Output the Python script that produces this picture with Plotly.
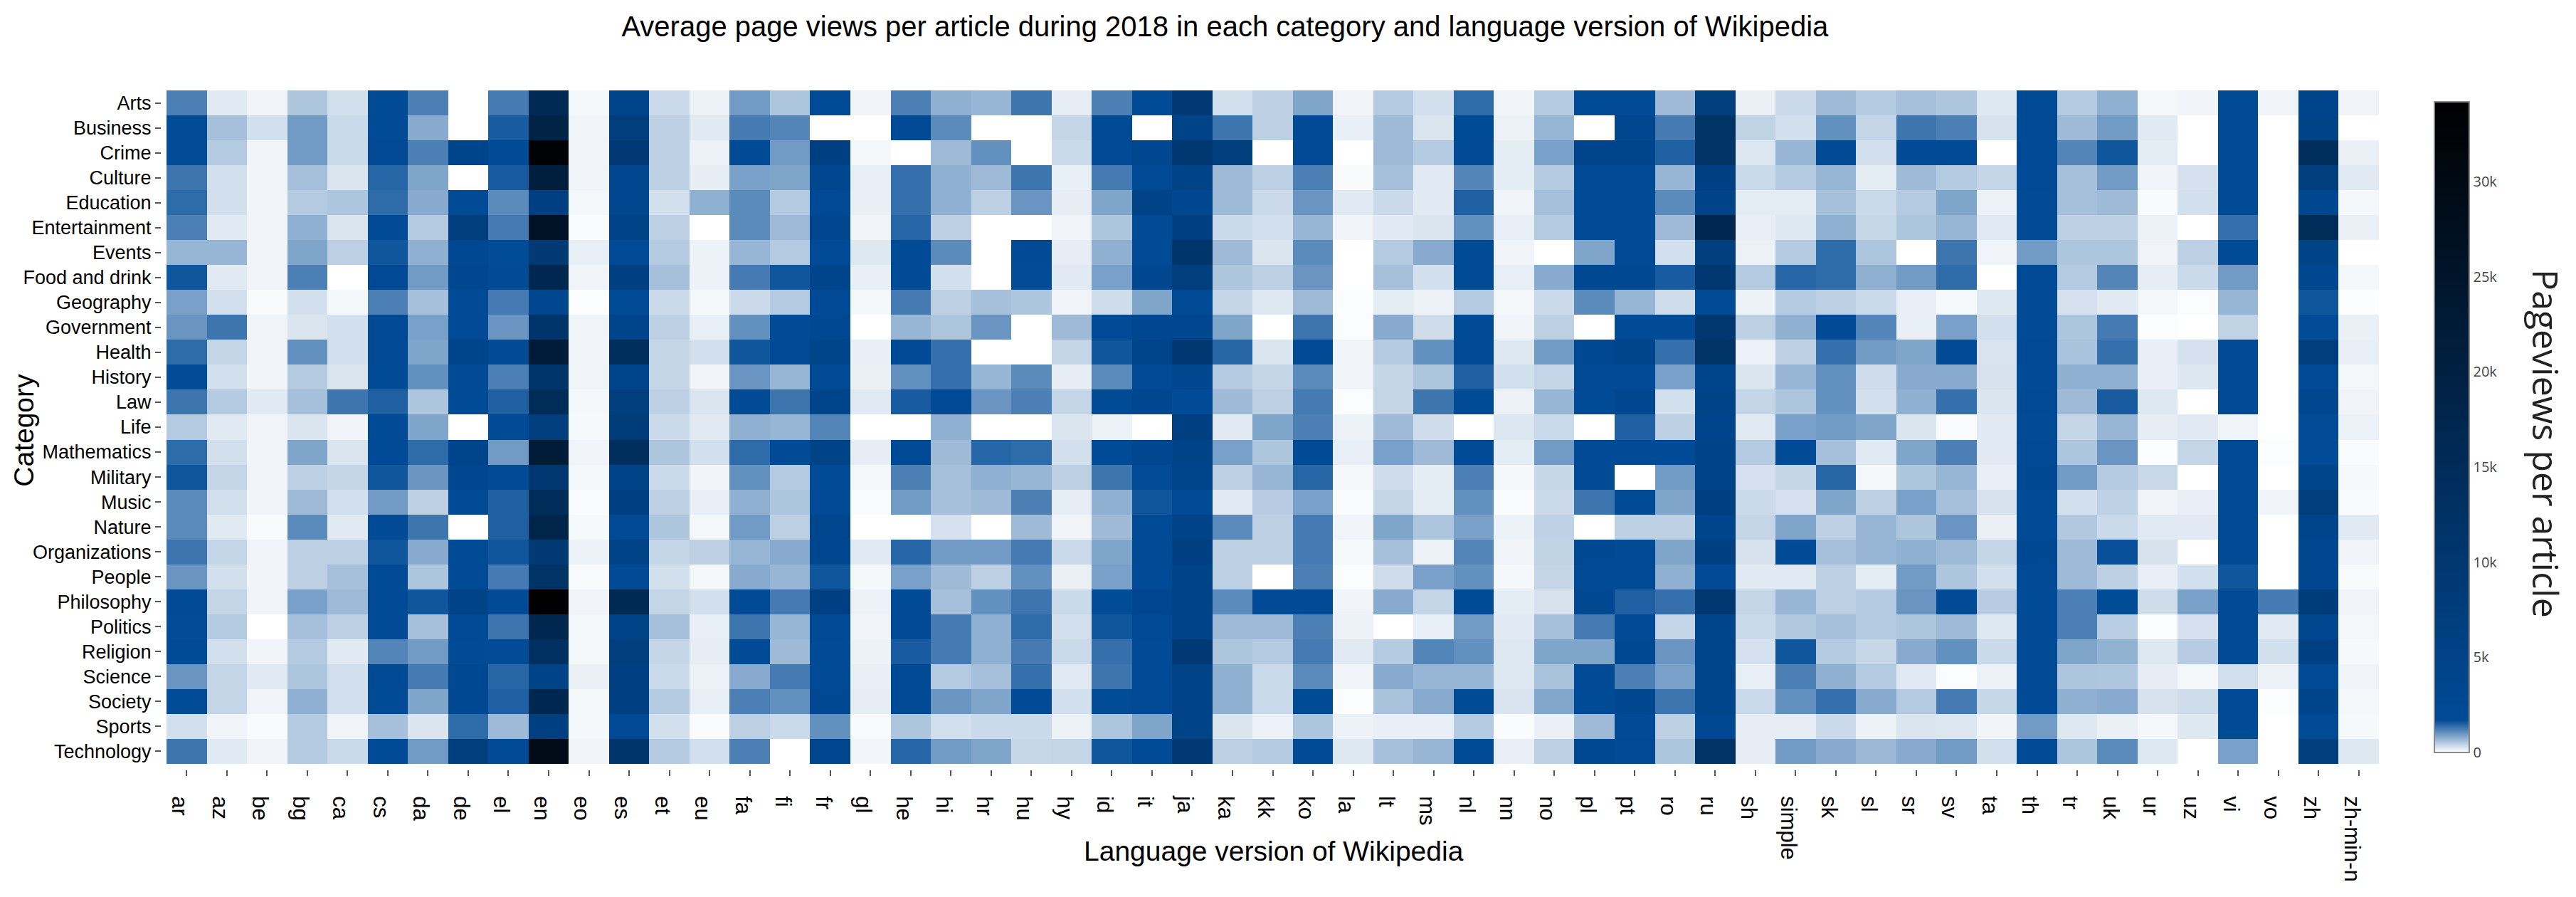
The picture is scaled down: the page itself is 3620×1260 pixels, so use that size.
import numpy as np
import plotly.graph_objects as go

categories = ["Arts","Business","Crime","Culture","Education","Entertainment","Events","Food and drink","Geography","Government","Health","History","Law","Life","Mathematics","Military","Music","Nature","Organizations","People","Philosophy","Politics","Religion","Science","Society","Sports","Technology"]
languages = ["ar","az","be","bg","ca","cs","da","de","el","en","eo","es","et","eu","fa","fi","fr","gl","he","hi","hr","hu","hy","id","it","ja","ka","kk","ko","la","lt","ms","nl","nn","no","pl","pt","ro","ru","sh","simple","sk","sl","sr","sv","ta","th","tr","uk","ur","uz","vi","vo","zh","zh-min-n"]

# Page views per article, in hundreds, one list per language, in category order
ar = [12,17,17,13,14,12,7,16,9,10,14,17,13,5,14,16,11,11,13,10,18,17,18,10,17,3,13]
az = [2,6,5,3,3,2,7,2,3,13,4,3,5,2,3,4,3,2,4,3,4,5,3,4,4,1,2]
be = [1,3,1,1,1,1,1,1,0.5,1,1,1,2,1,1,1,1,0.5,1,1,1,0,1,2,1,0.5,1]
bg = [5.5,9.5,9.5,6,5,7.5,8.5,12,3,2.5,10.5,5,6,2.5,8.5,4.5,6.5,11,4.5,4.5,9,6,5,5.5,7.5,5,5]
ca = [3,3.5,3.5,2.5,5.5,2.5,4.5,0,0.7,3,3,2.5,13,1,2.5,4,3,2,4.5,6,6.5,4.5,2,3,3,1,3.5]
cs = [18,18,19,14.5,14,18,16,19,12,20,19,18,15,18,18,16,9.5,18,16,18,18,18,11.5,19,18,6,18]
da = [12,8,12,8.5,8,5,7.5,9.5,6,9,8.5,10.5,5.5,8.5,14,10,4.5,13,8,5.5,16,6,9.5,12.5,8.5,2.5,9.5]
de = [0,0,40,0,18,70,25,30,18,18,40,18,18,0,40,30,19,0,18,18,50,20,17.5,25,25,14,70]
el = [12.5,15.5,18,15.5,11,12.5,17,18,12.5,10,18,12,15,17.5,9.5,18,15,15,16,12.5,18,13,17,14.5,15,6.5,18]
en = [160,190,330,210,60,260,90,170,30,110,220,110,150,70,220,100,150,180,90,120,340,170,130,50,170,60,290]
eo = [0.7,1,1,1,0.8,0.4,1.6,1,0.2,1,1,1,0.7,0.6,1,0.7,0.4,0.6,1.2,0.5,1,0.7,0.7,1.4,0.7,0.7,1]
es = [45,70,90,30,30,50,18,60,18,40,140,40,70,80,140,50,60,19,50,20,160,50,70,60,60,20,110]
et = [3.5,4.5,4.5,4.5,3,4.5,5,6,3.5,4.5,4,4,4.5,3.5,5.5,3.5,4.5,5.5,4,3,4,6,4,3.5,5,3,5]
eu = [1.3,2,1.3,1.7,7.5,0,1.2,1.2,0.7,1.5,3,1,2.5,2,3,1,1.6,0.8,4.5,0.8,3,1.6,1.7,1.3,1.6,0.4,3]
fa = [9.5,12.5,18,9,11,11,7,12.5,3.5,10.5,16,10,18,7.5,14,10.5,7.5,9.5,7,8,18,13,18,8,12,4.5,12]
fi = [5.5,11.5,9.5,8.5,5,6.5,5,16,5,18,18,7,13,7,18,5,5.5,4.5,8,7,12.5,7,6.5,12.5,10.5,3.5,0]
fr = [18,0,60,30,20,35,18,40,19,25,45,20,40,11.5,50,18,18,35,30,16,60,20,18,18,25,10.5,35]
gl = [1,0,0.8,1.5,1.5,1,2.2,1.5,0.8,0,1.5,1.4,2,0,1.7,0.8,0.4,0,2,0.7,1.2,1,1.2,1.5,1.7,0.5,0.9]
he = [12,20,0,13.5,13.5,14.5,18,18,12.5,7,20,10.5,15.5,0,19,12,9.5,0,14.5,9,18,18,15.5,19,19,5.5,14.5]
hi = [7.5,11,6.5,7.5,7.5,4.5,11,3,4.5,5.5,13.5,13.5,19,7.5,6.5,6,6,2.8,9.5,6.5,6,12.5,12.5,5,10,3,9.5]
hr = [7,0,10.5,6.5,4.5,0,0,0,6,10,0,7,10,0,14.5,7.5,6.5,0,9.5,4.5,10.5,7.5,7.5,6,8.5,3.5,8.5]
hu = [13,0,0,13,10,0,18,17,5.5,0,0,11,12,0,14,7,12,6.5,12.5,10.5,13,14,12.5,13.5,18,3.5,3.8]
hy = [1.7,4,3.5,1.5,1.7,1,1.7,2,1,6.5,4,1.7,4,2.5,3,4.5,1.7,1,3.5,1.4,3.5,3,3.5,2,3,1.3,4]
id_ = [12,18,18,12.5,8.5,5.5,7.5,9,3.2,18,16,11,18,1.2,18,13,7.5,6.5,8.5,9,17,16,13.5,13,17,5.5,16]
it = [18,0,30,19,50,18,18,30,8.5,30,40,19,30,0,30,17,16,18,18,18,35,20,18,18,20,8.5,18]
ja = [90,50,100,50,30,60,110,70,20,30,100,30,18,60,50,40,18,50,60,50,50,50,90,50,50,50,90]
ka = [3,13,70,6.5,6.5,3.5,6.5,5.5,4,8.5,14.5,5,6.5,2,9,4.5,2,11,4.5,4.5,11,6.5,5.5,7.5,7.5,2.5,4.5]
kk = [4.5,4.5,0,4.5,3.5,3,2.5,4.5,2.2,0,2.5,4,4.5,8.5,5.5,7,4.8,4.5,4.5,0,18,6.5,5,3.5,3.5,1.3,5]
ko = [8.5,18,18,12,10,7,11,10,6.5,13,18,11,12.5,12,18,14.5,9,12.5,12.5,12,18,12,12.5,11,17.5,5.5,18]
la = [1,1.5,0,0.5,2,1,0,0,0.3,0.3,1,1,0.3,1.2,1.6,0.7,0.4,1,0.6,0.3,1,1.2,2,1,0.3,1.2,2.2]
lt = [5,6.5,6.5,6,3.5,2,5,6,1.8,8,5,4,4,6.5,9,3.2,4,8.5,6,3.2,8,0,5,8,5.7,1.5,6]
ms = [3,2.5,5,2,2,2.5,8,3,1.2,3.2,10.5,5.5,13,3.2,6.5,1.8,1.8,5.5,1.2,9,4,1.5,11.5,7,8,1.5,7]
nl = [14,18,18,11.5,15,10.5,18,18,5,18,18,15,18,0,18,12,10.5,9,11.5,10.5,18,9.5,10.5,7,18,5,18]
nn = [1,1.3,1.8,1.8,1,1.6,1,1.6,0.8,1,2.2,3,1.2,2.3,1.8,0.7,0.4,1.2,1,0.7,1.8,2,2.2,2.2,2.6,0.4,1.6]
no = [5,7,9,5,6,5,0,8,3.5,4.5,9.5,4,7,3.5,9.5,3.8,3.5,4.3,4.2,4,2.7,6,8.5,5.8,8.3,1.4,4.5]
pl = [18,0,40,18,18,18,8.5,25,11,0,25,18,18,0,18,18,13,0,25,18,25,12.5,8.5,18,18,6.5,25]
pt = [18,30,40,18,18,18,19,25,7,18,40,18,30,15,18,0,18,4.5,20,19,15,18,25,12,30,18,20]
ro = [6.5,12.5,15,7,11,6.5,3,15.5,3.2,18,13.5,9,3,4.5,18,9.5,8.5,4.5,8.5,7.5,13.5,4,10,9,13,4.5,5.5]
ru = [70,120,120,60,50,170,70,100,18,100,120,40,50,40,50,50,60,40,60,20,100,40,40,40,40,25,120]
sh = [1.4,4.2,2.4,3.5,1.9,1.6,1.3,5,1.2,4.5,1.3,2.5,4,2,5,2.8,3.5,4,2.7,2,4,3.5,2.8,1.6,3.5,1.7,1.7]
simple = [3.5,3,7,5,1.9,2.2,5,14.5,5,7.5,4.5,7,5.5,9,18,4,2.8,8.5,18,2,7,5.2,16,12,10.5,1.7,9.5]
sk = [6.5,10.5,18,7,6,7.5,14,14,4.5,18,13.5,10.5,10.5,9.5,6,14.5,8.5,4.5,6,4.5,4.5,6,5,7.5,13.5,3.5,8]
sl = [5,4,3,1.9,3.5,3.8,5.5,7.5,3.5,11.5,9.5,3.3,3,8.5,2,0.8,4.5,7,7,1.9,5,5,3.8,5,8,1.2,6.7]
sr = [6,13,18,6.5,5,5.5,0,9.5,1.5,1.5,8.5,8,7.5,2.5,8.5,5.5,9,5.5,7.5,9.5,10,5.5,8,2,5,2.5,8]
sv = [5.5,12,18,5,8.5,7,13,14,0.6,9,18,8,13.5,0.4,12,7,6,10,6.5,5.5,18,6.5,10.5,0.3,12.5,2.4,9.5]
ta = [2.2,2.7,0,4,1.3,2,1,0,2.2,3,2.6,2.7,2.5,2,2,1.5,2.7,1.4,4,3,4.8,2.2,3.5,1.3,3.8,1,3]
th = [19,19,19,18.5,18,18,9.5,20,18,18,19,18,20,17.5,19,25,18,18,25,18,18,18,18,18,18,9.5,18]
tr = [5,6.5,11.5,6,6,4.5,5.5,5,2.8,5.5,5.7,7.5,6.5,4,5.5,9.5,3,5.2,6.5,6.5,12,12,8.5,5.5,7.5,2.2,5.5]
uk = [7.5,9.5,16,9.5,6.5,4.5,5.5,11.5,2,12.5,13.5,7.5,15.5,7,10,5,4.3,3.5,16.5,4.4,17,4.6,7.3,5.4,8,1.4,11]
ur = [0.8,2,1.9,1,0.5,1.2,1,1.7,0.8,0.3,1.5,1.5,2.2,1.7,0.3,3.7,1,2,2.7,1.5,3.2,0.3,2.2,1.7,2.7,0.7,2.2]
uz = [1,0,0,2.8,3,0,4.5,3.5,0.3,0,2.8,2.3,0,2,4,0,1.5,2,0,3,9,2.8,4.8,0.8,3.2,2.2,0]
vi = [17.5,17.5,17.5,17.5,17.5,13.5,18,9.5,7,4.2,18,18,18,1,18,18,17.5,17.5,18,16,18,18,17.5,3,18,17.5,9]
vo = [1,0,0,0,0,0,0,0,0,0,0,0,0,0,0.3,0,1,0,0,0,12.5,2,3,1.3,0.3,0,0]
zh = [40,50,140,70,30,150,50,30,16,17,70,20,30,17,17,40,70,40,30,30,80,30,60,18,40,18,70]
zh_min_nan = [1,0,1.4,2,0.7,1.4,0,0.7,0.2,1.4,1.6,0.8,1,1.3,0.4,0.6,0.5,2,1,0.5,1,0.8,0.6,1,0.7,0.6,2.2]

columns = [ar,az,be,bg,ca,cs,da,de,el,en,eo,es,et,eu,fa,fi,fr,gl,he,hi,hr,hu,hy,id_,it,ja,ka,kk,ko,la,lt,ms,nl,nn,no,pl,pt,ro,ru,sh,simple,sk,sl,sr,sv,ta,th,tr,uk,ur,uz,vi,vo,zh,zh_min_nan]
z = (np.array(columns, dtype=float).T * 100).tolist()

colorscale = [[0, "rgb(255,255,255)"], [0.05, "rgb(0,74,150)"], [1, "rgb(0,0,0)"]]

heat = go.Heatmap(
    z=z, x=languages, y=categories, zmin=0, zmax=34200, colorscale=colorscale,
    colorbar=dict(
        thickness=49, lenmode="pixels", len=914, x=1.025, xanchor="left", xpad=0,
        y=0.98323, yanchor="top", ypad=0, tick0=0, dtick=5000, tickformat="~s",
        outlinecolor="#8a8a8a", outlinewidth=2, ticks="",
        tickfont=dict(family="Open Sans", size=20, color="#444"),
    ),
)

fig = go.Figure(heat)
fig.update_layout(
    width=3604, height=1244, autosize=False,
    margin=dict(l=218, r=269, t=119, b=171, autoexpand=False),
    paper_bgcolor="white", plot_bgcolor="white",
    font=dict(family="Liberation Sans", color="black"),
    title=dict(text="Average page views per article during 2018 in each category and language version of Wikipedia",
               x=0.4754, xanchor="center", xref="container", y=0.977, yanchor="middle", yref="container",
               font=dict(family="Liberation Sans", size=40, color="black")),
    xaxis=dict(domain=[0.00257, 1], anchor="free", position=0, side="bottom", type="category",
               tickangle=90, ticks="outside", ticklen=8, tickwidth=2, tickcolor="#555",
               ticklabelstandoff=22, ticklabelshift=-10, showgrid=False, zeroline=False, showline=False, automargin=False,
               tickfont=dict(family="Liberation Sans", size=31, color="black")),
    yaxis=dict(domain=[0.00839, 1], anchor="free", position=0, autorange="reversed", type="category",
               ticks="outside", ticklen=8, tickwidth=2, tickcolor="#555",
               showgrid=False, zeroline=False, showline=False, automargin=False,
               tickfont=dict(family="Liberation Sans", size=27, color="black")),
    annotations=[
        dict(text="Language version of Wikipedia", xref="paper", yref="paper",
             x=0.5018, y=-0.1195, xanchor="center", yanchor="middle", showarrow=False,
             font=dict(family="Liberation Sans", size=39, color="black")),
        dict(text="Category", xref="paper", yref="paper", textangle=-90,
             x=-0.0620, y=0.5, xanchor="center", yanchor="middle", showarrow=False,
             font=dict(family="Liberation Sans", size=39, color="black")),
        dict(text="Pageviews per article", xref="paper", yref="paper", textangle=90,
             x=1.0754, y=0.48, xanchor="center", yanchor="middle", showarrow=False,
             font=dict(family="Open Sans", size=50, color="#222")),
    ],
)
fig.write_html("out.html")
